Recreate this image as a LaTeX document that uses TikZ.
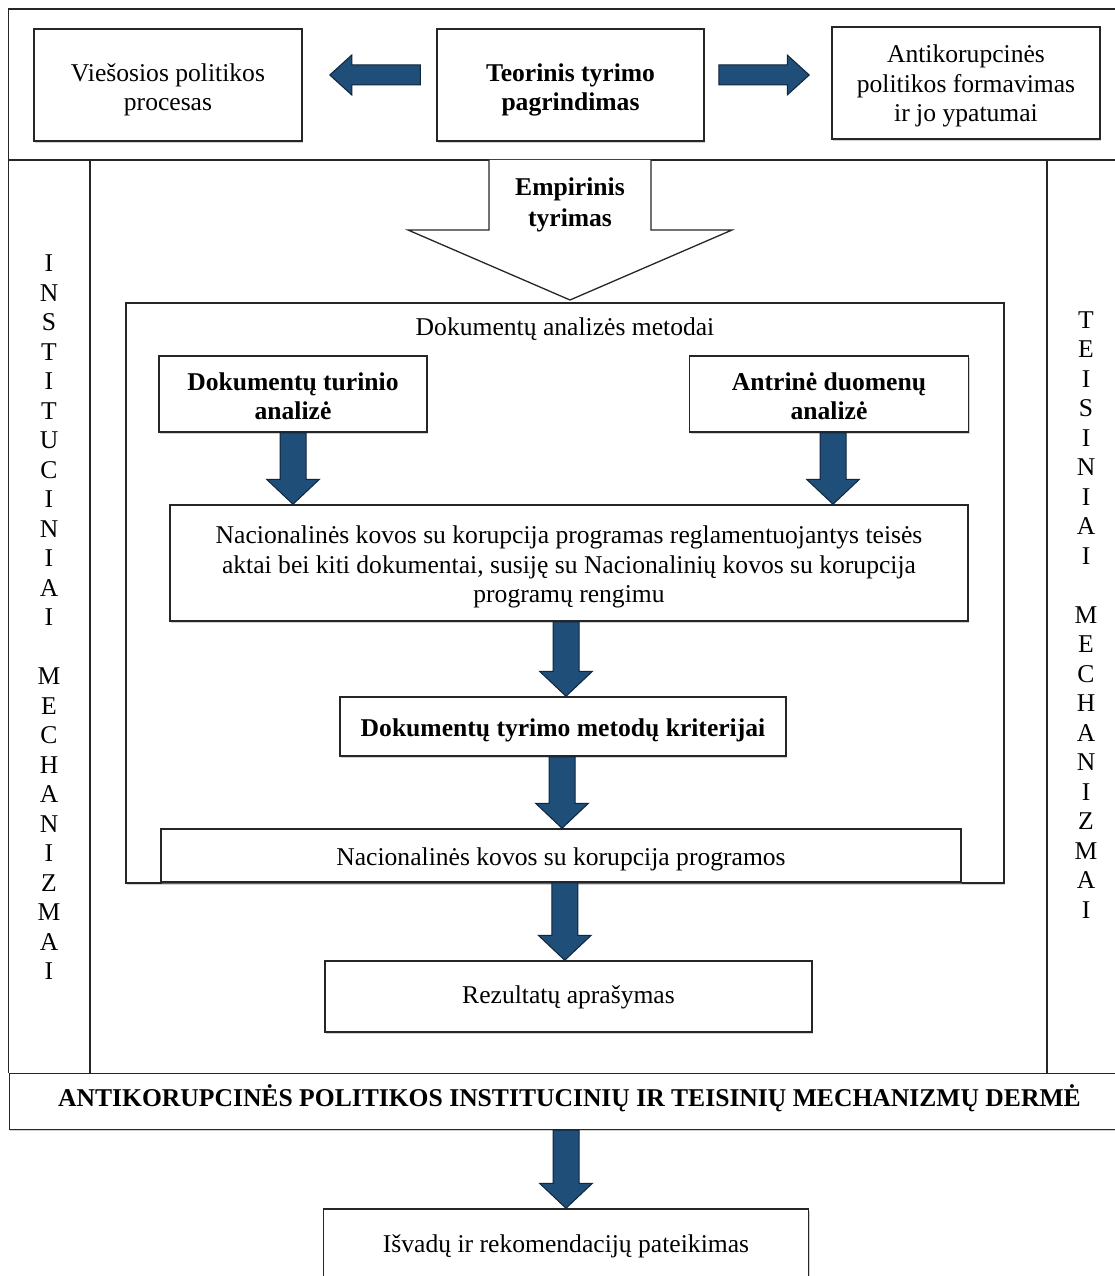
\documentclass[tikz,border=0pt]{standalone}
\usepackage{fontspec}
\setmainfont{Liberation Serif}
\usetikzlibrary{calc,shadows}

\definecolor{arrowfill}{HTML}{1F4E79}
\definecolor{arrowedge}{HTML}{10263D}
\definecolor{frame}{HTML}{262626}

\tikzset{
  txt/.style={font=\fontsize{25.6}{29.5}\selectfont, align=center, inner sep=0pt},
  boldtxt/.style={font=\fontsize{25.6}{29.5}\selectfont\bfseries},
  box/.style={draw=frame, line width=1.5pt, fill=white, inner sep=0pt,
    drop shadow={shadow xshift=1pt, shadow yshift=-1.6pt, fill=black!35}},
  frameline/.style={draw=frame, line width=1.5pt},
  blockarrow/.style={fill=arrowfill, draw=arrowedge, line width=1pt, line join=miter},
}

% framed box with its text: [text style]{name}{x}{y}{width}{height}{text drop}{text}
\newcommand\tbox[8][]{%
  \node[box, minimum width=#5pt, minimum height=#6pt] (#2) at (#3,#4) {};
  \node[txt,#1] (#2-text) at (#3,#4+#7) {#8};}

% downward block arrow: #1 source node, #2 target node, #3 point giving the x position
\newcommand\vblock[3]{%
  \path[blockarrow] let \p1=(#1.south), \p2=(#2.north), \p3=(#3) in
    (\x3-13pt,\y1) -- (\x3-13pt,\y2+25pt) -- (\x3-26.5pt,\y2+25pt) -- (\x3,\y2)
    -- (\x3+26.5pt,\y2+25pt) -- (\x3+13pt,\y2+25pt) -- (\x3+13pt,\y1) -- cycle;}

% horizontal block arrow from #1 to the tip #2, raised by #3, head length #4 (signed)
\newcommand\hblock[4]{%
  \path[blockarrow] let \p1=(#1), \p2=(#2) in
    (\x1,\y1+#3+10pt) -- (\x2-#4,\y1+#3+10pt) -- (\x2-#4,\y1+#3+20pt) -- (\x2,\y1+#3)
    -- (\x2-#4,\y1+#3-20pt) -- (\x2-#4,\y1+#3-10pt) -- (\x1,\y1+#3-10pt) -- cycle;}

\begin{document}
\begin{tikzpicture}[x=1pt,y=-1pt]
\useasboundingbox (0,0) rectangle (1115,1276);
\clip (0,0) rectangle (1115,1276);

% outer frame: top band, side columns
\draw[frameline] (8.5,9) rectangle (1125,160);
\draw[frameline] (8.5,160) -- (8.5,1073);
\draw[frameline] (90,160) -- (90,1073);
\draw[frameline] (1047,160) -- (1047,1073);

% theoretical part
\tbox{viesos}{168}{85}{268}{112}{5}{Viešosios politikos\\procesas}
\tbox[boldtxt]{teor}{570.5}{85}{267}{112}{5}{Teorinis tyrimo\\pagrindimas}
\tbox{anti}{966}{83}{268}{112}{3}{Antikorupcinės\\politikos formavimas\\ir jo ypatumai}

\coordinate (lefttip) at ($(viesos.east)+(27,0)$);
\coordinate (leftstart) at ($(teor.west)+(-16,0)$);
\coordinate (righttip) at ($(anti.west)+(-22,0)$);
\coordinate (rightstart) at ($(teor.east)+(14,0)$);
\hblock{leftstart}{lefttip}{10pt}{-22pt}
\hblock{rightstart}{righttip}{10pt}{22pt}

% empirical part: outlined arrow
\filldraw[frameline, fill=white, line width=1.3pt] (489,160) -- (489,230) -- (408,230) -- (570,300)
  -- (732,230) -- (651,230) -- (651,160);
\node[txt, font=\fontsize{25.6}{31}\selectfont\bfseries] (empir) at (570,205) {Empirinis\\tyrimas};

% side labels
\node[txt] (inst) at (49,617.5)
  {I\\N\\S\\T\\I\\T\\U\\C\\I\\N\\I\\A\\I\\~\\M\\E\\C\\H\\A\\N\\I\\Z\\M\\A\\I};
\node[txt] (teis) at (1086,615)
  {T\\E\\I\\S\\I\\N\\I\\A\\I\\~\\M\\E\\C\\H\\A\\N\\I\\Z\\M\\A\\I};

% document analysis block
\node[box, minimum width=878pt, minimum height=580pt] (metodai) at (565,593) {};
\node[txt] (metodaititle) at (565,329) {Dokumentų analizės metodai};

\tbox[boldtxt]{turinio}{293}{394}{268}{76}{2}{Dokumentų turinio\\analizė}
\tbox[boldtxt]{antrine}{829}{394}{279}{76}{2}{Antrinė duomenų\\analizė}
\tbox{aktai}{569}{563}{798}{116}{4}{Nacionalinės kovos su korupcija programas reglamentuojantys teisės\\
   aktai bei kiti dokumentai, susiję su Nacionalinių kovos su korupcija\\
   programų rengimu}
\tbox[boldtxt]{kriter}{563}{726.5}{446}{59}{4}{Dokumentų tyrimo metodų kriterijai}
\tbox{progr}{561}{855.5}{800}{53}{4}{Nacionalinės kovos su korupcija programos}

\tbox{rezult}{568.5}{996.5}{487}{71}{1}{Rezultatų aprašymas}

% synthesis band
\node[box, minimum width=1117pt, minimum height=56pt, anchor=north west] (derme) at (8.5,1072.7) {};
\node[txt, boldtxt] (dermetxt) at (569.5,1098)
  {ANTIKORUPCINĖS POLITIKOS INSTITUCINIŲ IR TEISINIŲ MECHANIZMŲ DERMĖ};

\tbox{isvados}{566}{1244}{485}{70}{2}{Išvadų ir rekomendacijų pateikimas}

% flow arrows
\vblock{turinio}{aktai}{turinio.south}
\vblock{antrine}{aktai}{$(antrine.south)+(4,0)$}
\vblock{aktai}{kriter}{$(aktai.south)!.5!(kriter.north)$}
\vblock{kriter}{progr}{$(kriter.south)!.5!(progr.north)$}
\vblock{progr}{rezult}{$(progr.south)!.5!(rezult.north)$}
\path let \p1=(derme.south), \p2=(isvados.north) in coordinate (dermebottom) at (\x2,\y1);
\vblock{derme}{isvados}{$(dermebottom)!.5!(isvados.north)$}
\end{tikzpicture}
\end{document}
